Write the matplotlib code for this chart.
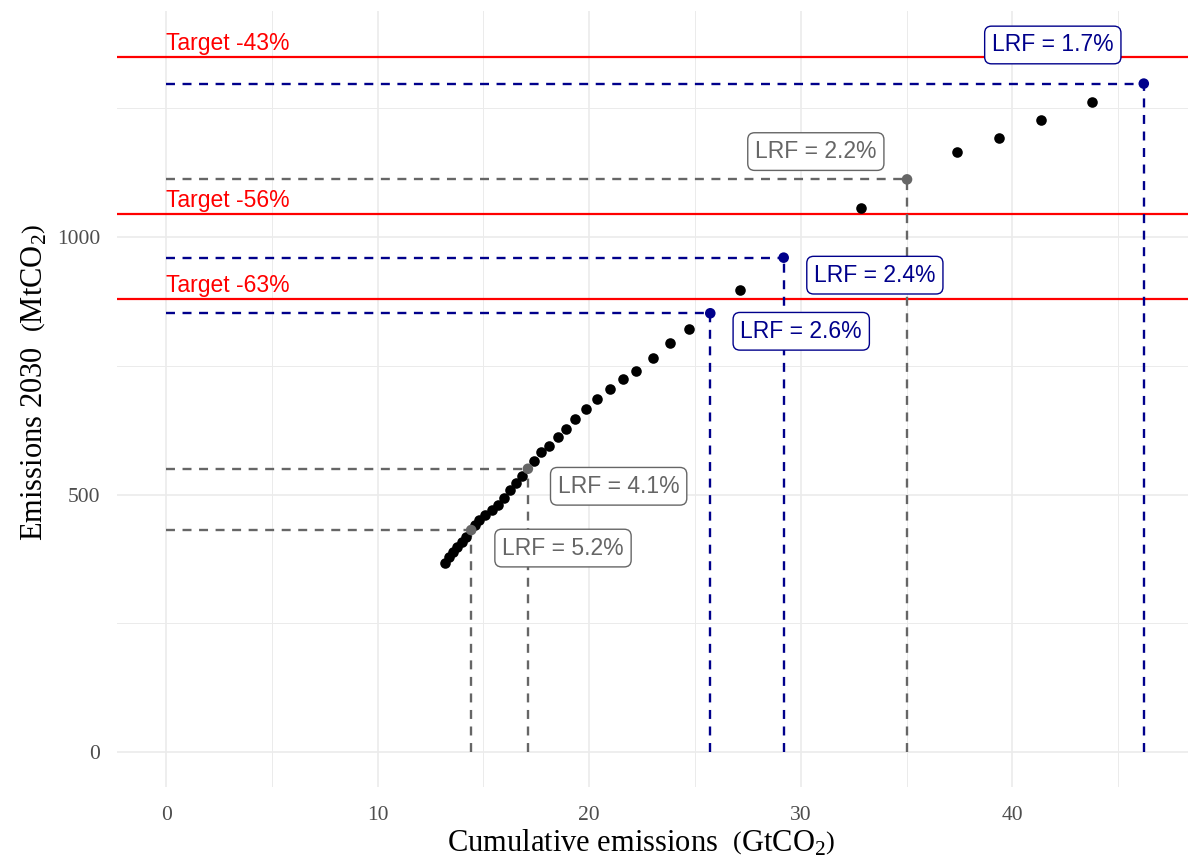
import matplotlib
matplotlib.use("Agg")
import matplotlib.pyplot as plt

plt.rcParams['mathtext.fontset'] = 'custom'
plt.rcParams['mathtext.rm'] = 'Liberation Serif'
plt.rcParams['mathtext.it'] = 'Liberation Serif:italic'
plt.rcParams['mathtext.bf'] = 'Liberation Serif:bold'

# ---- data ----
cum_x = [13.19, 13.35, 13.55, 13.74, 13.98, 14.18, 14.61, 14.81, 15.08, 15.40,
         15.71, 15.98, 16.26, 16.55, 16.81, 17.40, 17.73, 18.11, 18.50, 18.91,
         19.35, 19.84, 20.35, 20.96, 21.59, 22.22, 23.00, 23.80, 24.73, 27.14,
         32.85, 37.38, 39.35, 41.35, 43.76]
em_y = [367, 379, 389, 399, 408, 418, 441, 450, 460, 470,
        480, 494, 509, 522, 536, 565, 582, 595, 611, 628,
        647, 667, 685, 705, 725, 740, 765, 795, 821, 897,
        1057, 1166, 1192, 1227, 1262]

hl_x = [46.21, 35.02, 29.19, 25.72, 17.10, 14.42]
hl_y = [1298, 1112, 960, 852, 550, 431]
hl_lrf = ["LRF = 1.7%", "LRF = 2.2%", "LRF = 2.4%", "LRF = 2.6%", "LRF = 4.1%", "LRF = 5.2%"]
hl_group = ["blue", "grey", "blue", "blue", "grey", "grey"]
lab_x = [41.91, 30.71, 33.50, 30.02, 21.39, 18.76]
lab_y = [1373, 1166, 926, 817, 516, 396]

target_vals = [1349.5, 1044.7, 879.6]
target_labels = ["Target -43%", "Target -56%", "Target -63%"]

colors = {"blue": "#00008B", "grey": "#666666"}

# ---- figure ----
fig = plt.figure(figsize=(11.88, 8.61), dpi=100)
ax = fig.add_axes([117/1188, 1 - 787/861, (1188-117)/1188, (787-11)/861])

ax.set_xlim(-2.32, 48.3)
ax.set_ylim(-68, 1439)

for s in ax.spines.values():
    s.set_visible(False)

ax.set_xticks([0, 10, 20, 30, 40])
ax.set_yticks([0, 500, 1000])
ax.set_xticks([5, 15, 25, 35, 45], minor=True)
ax.set_yticks([250, 750, 1250], minor=True)
ax.grid(which='major', color='#EBEBEB', linewidth=1.2)
ax.grid(which='minor', color='#EBEBEB', linewidth=0.7)
ax.set_axisbelow(True)
ax.tick_params(which='both', length=0)
ax.tick_params(axis='x', pad=14)
ax.tick_params(axis='y', pad=12)
for lab in ax.get_xticklabels() + ax.get_yticklabels():
    lab.set_fontfamily('Liberation Serif')
    lab.set_fontsize(15.5)
    lab.set_color('#4D4D4D')

# target lines
for v, t in zip(target_vals, target_labels):
    ax.axhline(v, color='red', linewidth=1.6, zorder=2)
    ax.text(0, v + 14, t, color='red', fontsize=16.5, family='Liberation Sans',
            ha='left', va='baseline', zorder=3)

# dashed guides
for x, y, g in zip(hl_x, hl_y, hl_group):
    c = colors[g]
    ax.plot([0, x], [y, y], color=c, linewidth=1.7, dashes=(3.8, 3.2), zorder=2)
    ax.plot([x, x], [0, y], color=c, linewidth=1.7, dashes=(3.8, 3.2), zorder=2)

# points
ax.scatter(cum_x, em_y, s=58, color='black', zorder=4, linewidths=0)
ax.scatter(hl_x, hl_y, s=58, c=[colors[g] for g in hl_group], zorder=5, linewidths=0)

# labels
for lx, ly, t, g in zip(lab_x, lab_y, hl_lrf, hl_group):
    c = colors[g]
    ax.text(lx, ly, t, color=c, fontsize=16.5, family='Liberation Sans',
            ha='center', va='center', zorder=6,
            bbox=dict(boxstyle='round,pad=0.32,rounding_size=0.3', fc='white', ec=c, lw=1.0))

fig.text(641/1188, 1 - 843/861, r"Cumulative emissions  $\left(\mathrm{GtCO}_2\right)$",
         fontsize=22, family='Liberation Serif', ha='center', va='center')
fig.text(35/1188, 1 - 382/861, r"Emissions 2030  $\left(\mathrm{MtCO}_2\right)$",
         fontsize=22, family='Liberation Serif', ha='center', va='center', rotation=90)

fig.savefig("out.png", dpi=100)
